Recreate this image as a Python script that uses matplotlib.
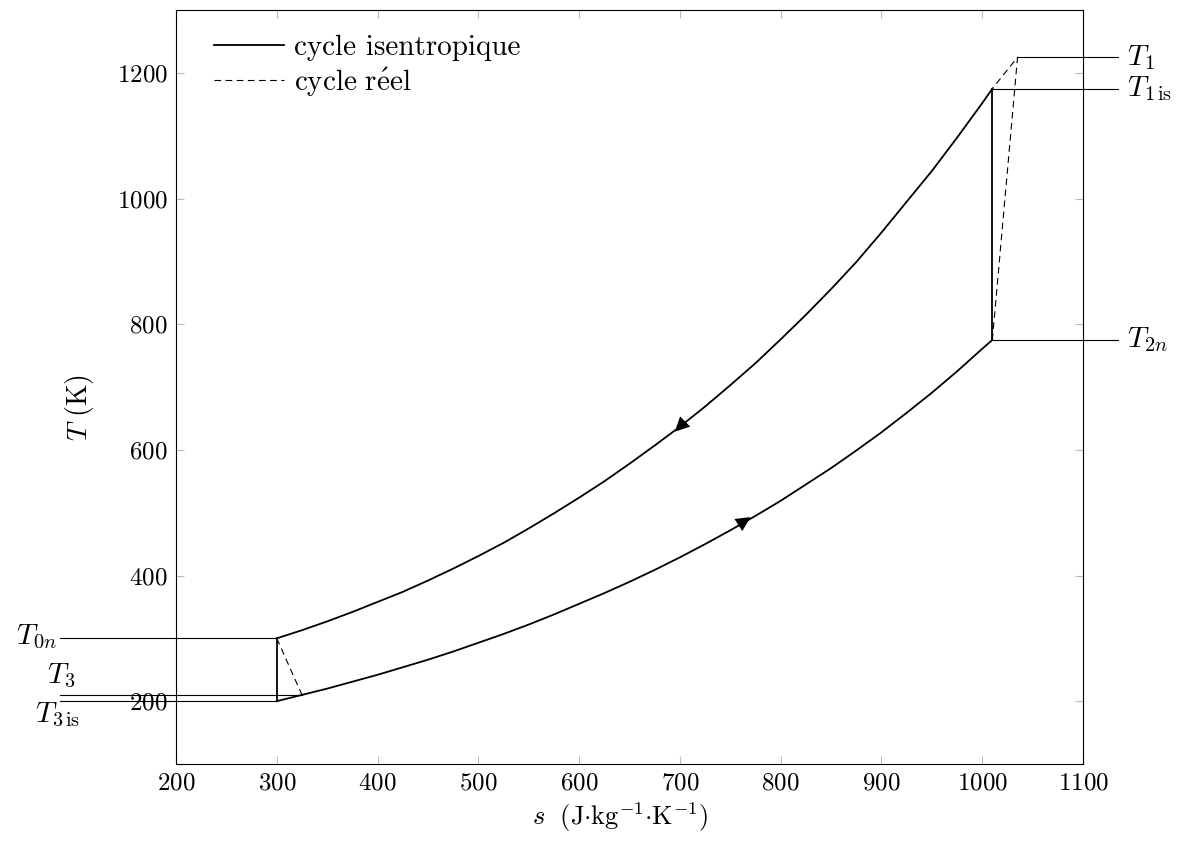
import matplotlib
matplotlib.use('Agg')
import matplotlib.pyplot as plt
from matplotlib.patches import FancyArrowPatch

plt.rcParams['mathtext.fontset'] = 'cm'
plt.rcParams['font.family'] = ['cmr10', 'DejaVu Serif']
plt.rcParams['axes.formatter.use_mathtext'] = True

# isobare haute (combustion) et basse (echappement)
s_haut = [300, 325, 350, 375, 400, 425, 450, 475, 500, 525, 550, 575, 600, 625, 650,
          675, 700, 725, 750, 775, 800, 825, 850, 875, 900, 925, 950, 975, 1000, 1010]
T_haut = [300, 313, 327, 342, 358, 374, 392, 411, 431, 452, 475, 499, 524, 550, 578,
          607, 637, 669, 703, 738, 776, 815, 856, 899, 946, 995, 1044, 1097, 1152, 1175]
s_bas = [300, 325, 350, 375, 400, 425, 450, 475, 500, 525, 550, 575, 600, 625, 650,
         675, 700, 725, 750, 775, 800, 825, 850, 875, 900, 925, 950, 975, 1000, 1010]
T_bas = [200, 210, 220, 231, 242, 254, 266, 279, 293, 307, 322, 338, 355, 372, 390,
         409, 429, 450, 472, 495, 519, 545, 571, 599, 628, 659, 691, 725, 761, 775]

# points du cycle
s_1, T_1 = 1035, 1225
s_1is, T_1is = 1010, 1175
s_2n, T_2n = 1010, 775
s_0n, T_0n = 300, 300
s_3, T_3 = 325, 210
s_3is, T_3is = 300, 200

fig = plt.figure(figsize=(11.78, 8.43), dpi=100)
ax = fig.add_axes([0.1494, 0.0937, 0.7700, 0.8943])

lw_fort = 1.3
lw_fin = 0.8
tirets = (0, (6, 4))

# cycle isentropique
ax.plot(s_haut, T_haut, color='black', lw=lw_fort, label='cycle isentropique')
ax.plot([s_1is, s_2n], [T_1is, T_2n], color='black', lw=lw_fort)
ax.plot(s_bas, T_bas, color='black', lw=lw_fort)
ax.plot([s_3is, s_0n], [T_3is, T_0n], color='black', lw=lw_fort)

# cycle reel
ax.plot([s_2n, s_1, s_1is], [T_2n, T_1, T_1is], color='black', lw=lw_fin,
        ls=tirets, label=r'$\mathrm{cycle\ r\acute{e}el}$')
ax.plot([s_0n, s_3], [T_0n, T_3], color='black', lw=lw_fin, ls=tirets)

# fleches de sens de parcours
a1 = FancyArrowPatch((712, 656), (695, 629), arrowstyle='-|>', mutation_scale=26,
                     color='black', lw=0, shrinkA=0, shrinkB=0)
a2 = FancyArrowPatch((750, 472), (770, 493), arrowstyle='-|>', mutation_scale=26,
                     color='black', lw=0, shrinkA=0, shrinkB=0)
ax.add_patch(a1)
ax.add_patch(a2)

# lignes de repere
s_droite = 1135
s_gauche = 85
for s0, T0 in [(s_1, T_1), (s_1is, T_1is), (s_2n, T_2n)]:
    ax.plot([s0, s_droite], [T0, T0], color='black', lw=lw_fin, clip_on=False)
for s0, T0 in [(s_0n, T_0n), (s_3, T_3), (s_3is, T_3is)]:
    ax.plot([s_gauche, s0], [T0, T0], color='black', lw=lw_fin, clip_on=False)

fs_T = 21
ax.text(1144, T_1, r'$T_1$', fontsize=fs_T, va='center', ha='left')
ax.text(1144, T_1is, r'$T_{1\,\mathrm{is}}$', fontsize=fs_T, va='center', ha='left')
ax.text(1144, T_2n, r'$T_{2n}$', fontsize=fs_T, va='center', ha='left')
ax.text(82, 302, r'$T_{0n}$', fontsize=fs_T, va='center', ha='right')
ax.text(100, 241, r'$T_3$', fontsize=fs_T, va='center', ha='right')
ax.text(105, 178, r'$T_{3\,\mathrm{is}}$', fontsize=fs_T, va='center', ha='right')

ax.set_xlim(200, 1100)
ax.set_ylim(100, 1300)
ax.set_xticks(range(200, 1101, 100))
ax.set_yticks(range(200, 1201, 200))
ax.tick_params(direction='in', length=6, width=0.8, color='#bbbbbb', labelsize=18,
               top=True, right=True, pad=6)
for sp in ax.spines.values():
    sp.set_linewidth(0.8)

ax.set_xlabel(r'$s\ \ (\mathrm{J{\cdot}kg^{-1}{\cdot}K^{-1}})$', fontsize=19)
ax.set_ylabel(r'$T\ (\mathrm{K})$', fontsize=20)
ax.xaxis.label.set_va('center')
ax.yaxis.label.set_va('center')
ax.xaxis.set_label_coords(0.49, -0.07)
ax.yaxis.set_label_coords(-0.106, 0.473)

ax.legend(loc='upper left', frameon=False, fontsize=21, handlelength=2.4,
          handletextpad=0.35, labelspacing=0.15, borderaxespad=0,
          bbox_to_anchor=(0.029, 0.983))

fig.savefig('out.png', dpi=100)
